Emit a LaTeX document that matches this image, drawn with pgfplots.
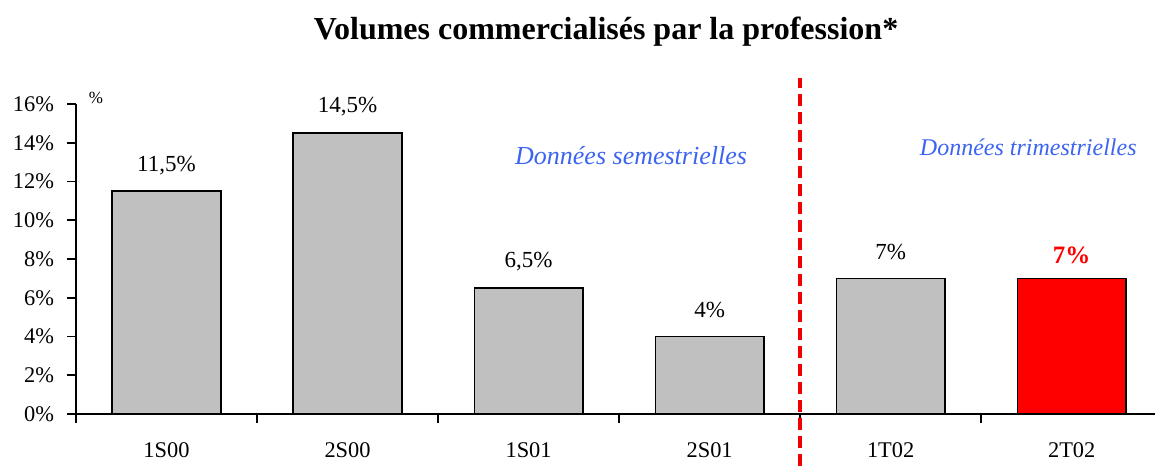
\documentclass[border=0pt]{standalone}
\usepackage{fontspec}
\setmainfont{Liberation Serif}
\usepackage{pgfplots}
\pgfplotsset{compat=1.18}
\definecolor{bargray}{RGB}{192,192,192}
\definecolor{txtblue}{RGB}{60,100,240}
\begin{document}
\begin{tikzpicture}
\useasboundingbox (-38pt,-26pt) rectangle (539.5pt,207pt);
\begin{axis}[
  at={(0,0)}, anchor=south west,
  scale only axis, width=539.5pt, height=155pt,
  xmin=-0.5, xmax=5.46, ymin=0, ymax=16,
  clip=false,
  axis x line*=bottom, axis y line*=left,
  axis line style={line width=0.8pt, -},
  tick style={black, line width=0.8pt},
  major tick length=4.5pt, tick align=outside,
  ytick={0,2,...,16},
  yticklabel={\pgfmathprintnumber{\tick}\%},
  yticklabel style={font=\fontsize{11.2}{13}\selectfont, xshift=-3pt},
  /pgf/number format/assume math mode=true,
  xtick={-0.5,0.5,1.5,2.5,3.5,4.5},
  xticklabels={},
  extra x ticks={0,1,2,3,4,5},
  extra x tick labels={1S00,2S00,1S01,2S01,1T02,2T02},
  extra x tick style={major tick length=0pt, tick label style={font=\fontsize{11.2}{13}\selectfont, yshift=-11pt}},
  ybar, bar width=0.6, bar shift=0pt,
  point meta=explicit symbolic,
  nodes near coords,
  nodes near coords style={anchor=center},
]
\addplot[fill=bargray, draw=black, line width=0.75pt,
  nodes near coords style={yshift=13pt, font=\fontsize{11.5}{13}\selectfont, black}] coordinates {
  (0,11.5) [11,5\%]
  (1,14.5) [14,5\%]
  (2,6.5) [6,5\%]
  (3,4) [4\%]
  (4,7) [7\%]
};
\addplot[fill=red, draw=black, line width=0.75pt,
  nodes near coords style={yshift=11.5pt, font=\fontsize{12.5}{14}\selectfont\bfseries, red}] coordinates {
  (5,7) [7\%]
};
\addplot[sharp plot, red!95!black, line width=2pt, dash pattern=on 6pt off 3pt, nodes near coords={}] coordinates {(3.5,-2.7) (3.5,17.34)};
\node[font=\fontsize{16}{18}\selectfont\bfseries] at (axis cs:2.428,19.72) {Volumes commercialisés par la profession*};
\node[font=\fontsize{13}{15}\selectfont\itshape, text=txtblue] at (axis cs:2.566,13.32) {Données semestrielles};
\node[font=\fontsize{12}{14}\selectfont\itshape, text=txtblue] at (axis cs:4.76,13.78) {Données trimestrielles};
\node[font=\fontsize{8.5}{9}\selectfont] at (axis cs:-0.39,16.31) {\%};
\end{axis}
\end{tikzpicture}
\end{document}
